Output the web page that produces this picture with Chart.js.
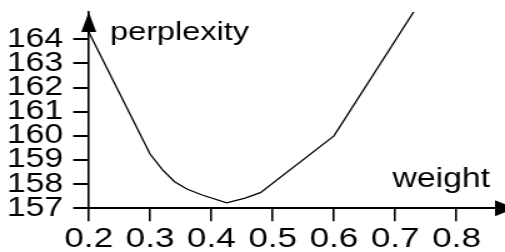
<!DOCTYPE html>
<html>
<head>
<meta charset="utf-8">
<script src="https://cdn.jsdelivr.net/npm/chart.js@4"></script>
<style>
  html, body { margin: 0; padding: 0; background: #fff; overflow: hidden; }
  #wrap { width: 404px; height: 252px; transform: scaleX(1.25); transform-origin: 0 0; }
</style>
</head>
<body>
<div id="wrap"><canvas id="chart" width="404" height="252"></canvas></div>
<script>
const weights = [0.2, 0.3, 0.32, 0.34, 0.36, 0.385, 0.425, 0.455, 0.48, 0.6, 0.8];
const perplexity = [164.3, 159.25, 158.6, 158.1, 157.8, 157.55, 157.23, 157.42, 157.65, 160.0, 167.9];
const xTicks = [0.2, 0.3, 0.4, 0.5, 0.6, 0.7, 0.8];
const yTicks = [157, 158, 159, 160, 161, 162, 163, 164];
const yLabel = 'perplexity';
const xLabel = 'weight';

const FONT = '"Liberation Sans", Arial, Helvetica, sans-serif';

const arrowsAndLabels = {
  id: 'arrowsAndLabels',
  afterDraw(chart) {
    const ctx = chart.ctx;
    const area = chart.chartArea;
    ctx.save();
    ctx.fillStyle = '#000';

    // arrow on top of the y axis
    ctx.beginPath();
    ctx.moveTo(area.left, area.top);
    ctx.lineTo(area.left - 6, area.top + 20);
    ctx.lineTo(area.left + 6, area.top + 20);
    ctx.closePath();
    ctx.fill();

    // arrow at the end of the x axis
    ctx.beginPath();
    ctx.moveTo(area.right + 8, area.bottom);
    ctx.lineTo(area.right - 8, area.bottom - 8);
    ctx.lineTo(area.right - 8, area.bottom + 8);
    ctx.closePath();
    ctx.fill();

    ctx.textBaseline = 'alphabetic';
    ctx.font = '26px ' + FONT;
    ctx.textAlign = 'left';
    ctx.fillText(yLabel, area.left + 17, area.top + 28);
    ctx.font = '27px ' + FONT;
    ctx.textAlign = 'right';
    ctx.fillText(xLabel, area.right - 12, area.bottom - 21);
    ctx.restore();
  }
};

new Chart(document.getElementById('chart'), {
  type: 'scatter',
  data: {
    datasets: [{
      data: weights.map((w, i) => ({ x: w, y: perplexity[i] })),
      showLine: true,
      borderColor: '#000',
      borderWidth: 1.3,
      pointRadius: 0,
      tension: 0
    }]
  },
  options: {
    responsive: false,
    animation: false,
    devicePixelRatio: 1,
    layout: { padding: { top: 12, right: 0, left: 0, bottom: 0 } },
    plugins: { legend: { display: false }, tooltip: { enabled: false } },
    scales: {
      x: {
        type: 'linear',
        min: 0.2,
        max: 0.879,
        afterBuildTicks: scale => { scale.ticks = xTicks.map(v => ({ value: v })); },
        afterFit: scale => {
          scale.height = 43.7;
          scale.paddingLeft = 0;
          scale.paddingRight = 0;
        },
        border: { display: true, color: '#000', width: 2 },
        grid: { drawOnChartArea: false, drawTicks: true, tickLength: 13, color: '#000', lineWidth: 1.6 },
        ticks: {
          color: '#000',
          padding: 1,
          maxRotation: 0,
          autoSkip: false,
          font: { family: FONT, size: 28 },
          callback: v => v.toFixed(1)
        }
      },
      y: {
        min: 157,
        max: 165.13,
        afterBuildTicks: scale => { scale.ticks = yTicks.map(v => ({ value: v })); },
        afterFit: scale => {
          scale.width = 71;
          scale.paddingTop = 0;
          scale.paddingBottom = 0;
        },
        border: { display: true, color: '#000', width: 1.6 },
        grid: { drawOnChartArea: false, drawTicks: true, tickLength: 12.4, color: '#000', lineWidth: 2 },
        ticks: {
          color: '#000',
          padding: 8,
          autoSkip: false,
          font: { family: FONT, size: 27 },
          callback: v => String(v)
        }
      }
    }
  },
  plugins: [arrowsAndLabels]
});
</script>
</body>
</html>
